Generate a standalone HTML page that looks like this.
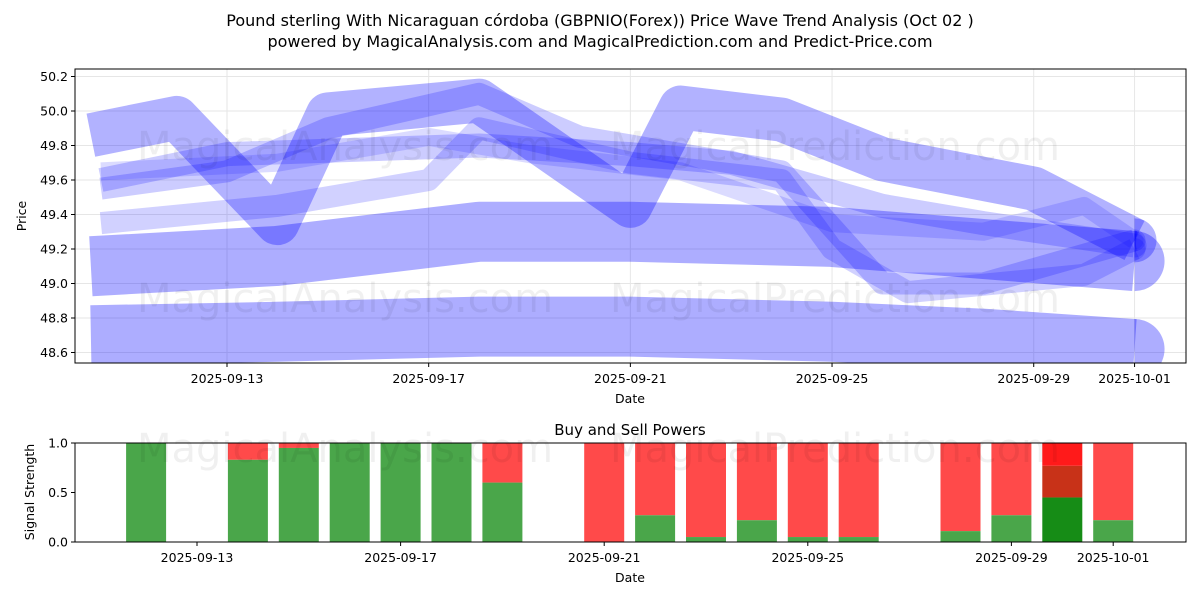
<!DOCTYPE html>
<html><head><meta charset="utf-8">
<style>
body{margin:0;background:#fff;font-family:"Liberation Sans","DejaVu Sans",sans-serif;}
svg text{font-family:"DejaVu Sans","Liberation Sans",sans-serif;}
</style></head>
<body>
<svg id="c" width="1200" height="600" xmlns="http://www.w3.org/2000/svg">
<text x="600" y="26" text-anchor="middle" font-size="16">Pound sterling With Nicaraguan córdoba (GBPNIO(Forex)) Price Wave Trend Analysis (Oct 02 )</text>
<text x="600" y="47" text-anchor="middle" font-size="16">powered by MagicalAnalysis.com and MagicalPrediction.com and Predict-Price.com</text>
<defs><clipPath id="clipTop"><rect x="75" y="69" width="1111" height="294"/></clipPath></defs>
<g id="top"></g>
<g id="bot"></g>
</svg>
<script>
const NS='http://www.w3.org/2000/svg';
const svg=document.getElementById('c');
const top_=document.getElementById('top');
const bot=document.getElementById('bot');
// ---- data ----
const priceTicks=[48.6,48.8,49.0,49.2,49.4,49.6,49.8,50.0,50.2];
const dateTicks=[13,17,21,25,29,31];
const dateLabels=['2025-09-13','2025-09-17','2025-09-21','2025-09-25','2025-09-29','2025-10-01'];
const bandADays=[10.3,14,18,21,25,28,31];
const bandAVals=[48.70,48.72,48.75,48.75,48.72,48.68,48.62];
const bandBDays=[10.3,14,18,21,25,28,31];
const bandBVals=[49.10,49.16,49.30,49.30,49.27,49.20,49.13];
const bandCDays=[10.3,12,14,15,18,21,22,24,26,29,31];
const bandCVals=[49.86,49.96,49.35,49.98,50.06,49.45,50.02,49.95,49.72,49.55,49.25];
const bandDDays=[10.5,13,16,18,21,23,26,28,31];
const bandDVals=[49.6,49.75,49.78,49.8,49.75,49.7,49.45,49.35,49.22];
const bandEDays=[10.5,13,15,18,20,24,26,28,31];
const bandEVals=[49.55,49.65,49.9,50.1,49.85,49.65,49.0,49.0,49.25];
const bandFDays=[10.5,14,17,18,21,24,25,26.5,30,31];
const bandFVals=[49.35,49.45,49.6,49.9,49.7,49.6,49.2,48.95,49.05,49.2];
const bandGDays=[10.5,14,17,19,22,25,28,30,31];
const bandGVals=[49.65,49.7,49.85,49.75,49.65,49.35,49.3,49.45,49.25];
const sigDays=[12,14,15,16,17,18,19,21,22,23,24,25,26,28,29,30,31];
const buyVals=[1,0.83,0.95,1,1,1,0.6,0,0.27,0.05,0.22,0.05,0.05,0.11,0.27,0.45,0.22];
const sigTicks=[0,0.5,1.0];
// ---- scales ----
const X=d=>227+(d-13)*50.42;
const XB=d=>197+(d-13)*50.9;
const Y=v=>111+(50.0-v)*172.5;
const YS=v=>542-v*99;
function el(tag,attrs,parent){const e=document.createElementNS(NS,tag);for(const k in attrs)e.setAttribute(k,attrs[k]);parent.appendChild(e);return e;}
priceTicks.forEach(v=>{
  const g=el('line',{x1:75,x2:1186,y1:Y(v),y2:Y(v),stroke:'#e6e6e6','stroke-width':1},top_);
  
  
  const t=el('text',{x:68,y:Y(v)+4.5,'text-anchor':'end','font-size':12.5},top_);t.textContent=v.toFixed(1);
  
  
});
dateTicks.forEach((d,i)=>{
  const g=el('line',{x1:X(d),x2:X(d),y1:69,y2:363,stroke:'#e6e6e6'},top_);
  
  
  const t=el('text',{x:X(d),y:383,'text-anchor':'middle','font-size':12.5},top_);t.textContent=dateLabels[i];
  
  
  const t2=el('text',{x:XB(d),y:562,'text-anchor':'middle','font-size':12.5},bot);t2.textContent=dateLabels[i];
  
  
  el('line',{x1:XB(d),x2:XB(d),y1:542,y2:546,stroke:'#000'},bot);
  el('line',{x1:X(d),x2:X(d),y1:363,y2:367,stroke:'#000'},top_);
});
[[345,160],[835,160],[345,312],[835,312],[345,462],[835,462]].forEach((p,i)=>{
  const t=el('text',{x:p[0],y:p[1],'text-anchor':'middle','font-size':40,fill:'#000','fill-opacity':0.06},svg);
  t.textContent=i%2?'MagicalPrediction.com':'MagicalAnalysis.com';
  
  
});
const bg=el('g',{'clip-path':'url(#clipTop)'},top_);
function band(days,vals,w,op,name){
  const p=days.map((d,i)=>X(d)+','+Y(vals[i])).join(' ');
  const b=el('polyline',{points:p,fill:'none',stroke:'rgb(0,0,255)','stroke-opacity':op,'stroke-width':w,'stroke-linejoin':'round','stroke-linecap':'butt'},bg);
  
  
  const n=days.length-1;
  const c=el('path',{d:'M'+X(days[n])+' '+(Y(vals[n])-w/2)+' A'+w/2+' '+w/2+' 0 0 1 '+X(days[n])+' '+(Y(vals[n])+w/2)+' Z',fill:'rgb(0,0,255)','fill-opacity':op},bg);
  
  
}
band(bandADays,bandAVals,60,0.32,'wave-band-a');
band(bandBDays,bandBVals,60,0.32,'wave-band-b');
band(bandCDays,bandCVals,44,0.3,'wave-band-c');
band(bandDDays,bandDVals,24,0.2,'wave-band-d');
band(bandEDays,bandEVals,22,0.2,'wave-band-e');
band(bandFDays,bandFVals,22,0.18,'wave-band-f');
band(bandGDays,bandGVals,18,0.14,'wave-band-g');
el('rect',{x:75,y:69,width:1111,height:294,fill:'none',stroke:'#000'},top_);
const yt=el('text',{x:26,y:216,'text-anchor':'middle','font-size':12.5,transform:'rotate(-90 26 216)'},top_);yt.textContent='Price';

const xt=el('text',{x:630,y:403,'text-anchor':'middle','font-size':12.5},top_);xt.textContent='Date';

priceTicks.forEach(v=>el('line',{x1:71,x2:75,y1:Y(v),y2:Y(v),stroke:'#000'},top_));
const st=el('text',{x:630,y:435,'text-anchor':'middle','font-size':15},bot);st.textContent='Buy and Sell Powers';

const bw=40;
sigDays.forEach((d,i)=>{
  const v=buyVals[i];const x=XB(d)-bw/2;
  if(d===30){
    const a=el('rect',{x:x,y:YS(v),width:bw,height:YS(0)-YS(v),fill:'#168c16'},bot);
    
    const b=el('rect',{x:x,y:YS(0.77),width:bw,height:YS(v)-YS(0.77),fill:'#c83218'},bot);
    
    const c=el('rect',{x:x,y:YS(1),width:bw,height:YS(0.77)-YS(1),fill:'#ff1a1a'},bot);
    
    return;
  }
  const r=el('rect',{x:x,y:YS(1),width:bw,height:YS(v)-YS(1),fill:'#ff4a4a'},bot);
  
  const g=el('rect',{x:x,y:YS(v),width:bw,height:YS(0)-YS(v),fill:'#4aa64a'},bot);
  
});
sigTicks.forEach(v=>{
  el('line',{x1:71,x2:75,y1:YS(v),y2:YS(v),stroke:'#000'},bot);
  const t=el('text',{x:68,y:YS(v)+4.5,'text-anchor':'end','font-size':12.5},bot);t.textContent=v.toFixed(1);
  
});
el('rect',{x:75,y:443,width:1111,height:99,fill:'none',stroke:'#000'},bot);
const sy=el('text',{x:34,y:492,'text-anchor':'middle','font-size':12.5,transform:'rotate(-90 34 492)'},bot);sy.textContent='Signal Strength';

const sx=el('text',{x:630,y:582,'text-anchor':'middle','font-size':12.5},bot);sx.textContent='Date';

</script>
</body></html>
